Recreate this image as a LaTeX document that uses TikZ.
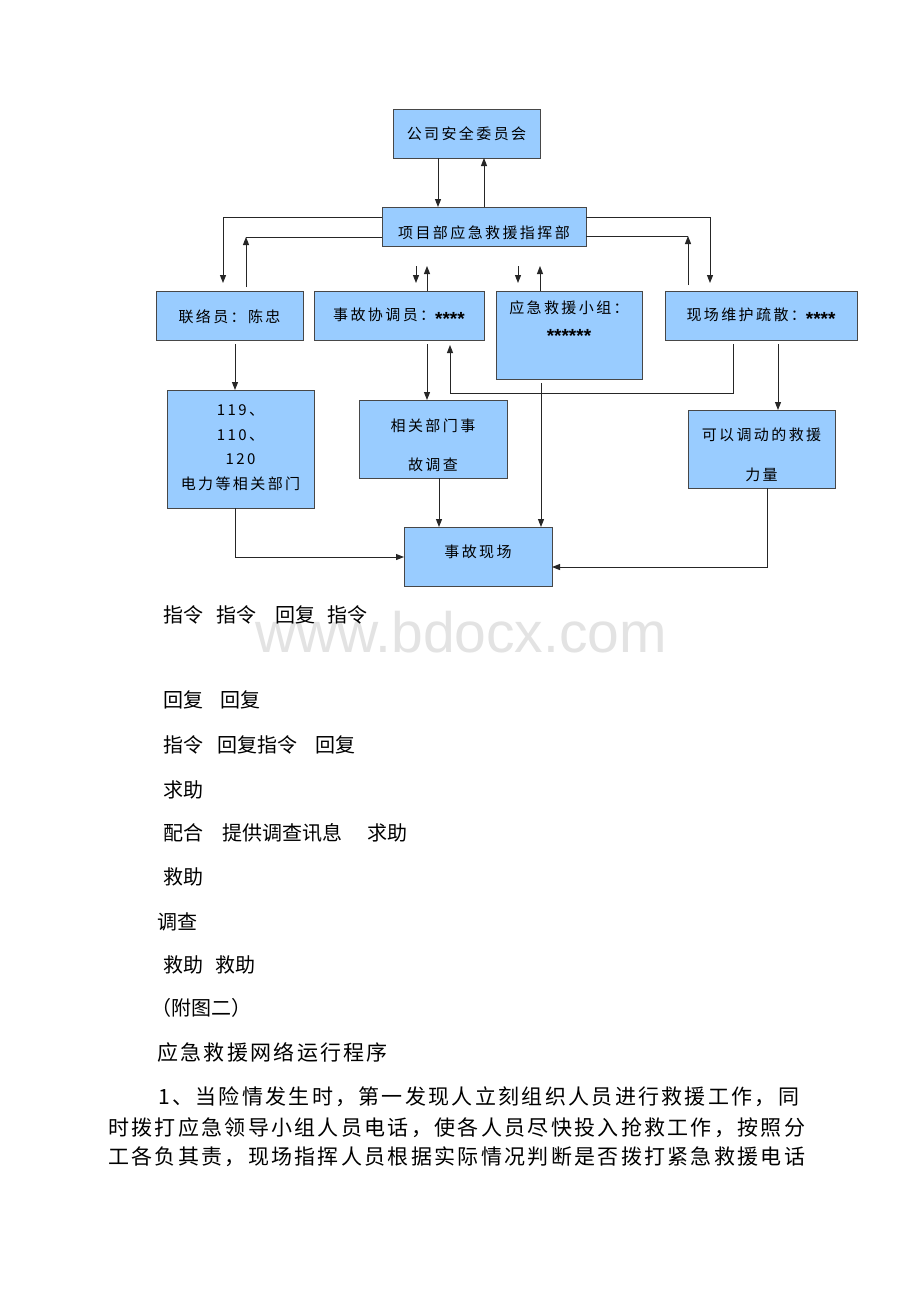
\documentclass[tikz,border=0pt]{standalone}
\usepackage{fontspec}
\setmainfont{Noto Sans CJK SC}
\newfontfamily\boxfont[LetterSpace=16]{Noto Sans CJK SC}
\newfontfamily\parafont[LetterSpace=11]{Noto Sans CJK SC}
\newfontfamily\wmfont{Liberation Sans}
\newfontfamily\starfont{Liberation Sans}
\usepackage{tikz}
\usetikzlibrary{arrows.meta}
\definecolor{boxblue}{HTML}{99CCFF}
\definecolor{edgegray}{HTML}{262626}
\newcommand{\stars}[1]{\raisebox{-5pt}{\starfont\bfseries\fontsize{19}{19}\selectfont #1}}

\begin{document}
\begin{tikzpicture}[x=1pt, y=-1pt,
		box/.style={draw=edgegray!85, line width=1pt, fill=boxblue, inner sep=0pt, outer sep=0pt},
		boxtext/.style={font=\boxfont\fontsize{15}{24}\selectfont, align=center, inner sep=0pt},
		bodytext/.style={font=\fontsize{20}{24}\selectfont, anchor=west, inner sep=0pt},
		paratext/.style={font=\parafont\fontsize{21}{26}\selectfont, anchor=west, inner sep=0pt},
		link/.style={draw=edgegray, line width=1pt},
		arr/.style={link, -{Triangle[length=8pt,width=6pt]}}]
		\useasboundingbox (0,0) rectangle (920,1302);
		\fill[white] (0,0) rectangle (920,1302);
		\node[anchor=base west, inner sep=0pt, text=black!11, font=\wmfont\fontsize{57}{60}\selectfont] (wm) at (255,652) {www.bdocx.com};

		\node[box, minimum width=147, minimum height=49] (gs) at (466.5,133.5) {};
		\node[box, minimum width=204, minimum height=39] (xmb) at (484,226.5) {};
		\node[box, minimum width=147, minimum height=49] (llr) at (229.5,315.5) {};
		\node[box, minimum width=170, minimum height=49] (sgx) at (399,315.5) {};
		\node[box, minimum width=146, minimum height=88] (jyz) at (569,335) {};
		\node[box, minimum width=192, minimum height=49] (xcwh) at (761,315.5) {};
		\node[box, minimum width=147, minimum height=118] (bj) at (240.5,449) {};
		\node[box, minimum width=148, minimum height=78] (xgbm) at (433,439) {};
		\node[box, minimum width=148, minimum height=59] (sgxc) at (478,556.5) {};
		\node[box, minimum width=147, minimum height=78] (kydd) at (761.5,449) {};

		\node[boxtext] (gs-t) at (gs) {公司安全委员会};
		\node[boxtext] (xmb-t) at ([yshift=-6.5pt]xmb.center) {项目部应急救援指挥部};
		\node[boxtext] (llr-t) at ([yshift=-1.5pt]llr.center) {联络员：陈忠};
		\node[boxtext] (sgx-t) at ([yshift=-1.5pt]sgx.center) {事故协调员：\stars{****}};
		\node[boxtext] (jyz-t) at ([yshift=13pt]jyz.center) {应急救援小组：\\\stars{******}};
		\node[boxtext] (xcwh-t) at ([yshift=-1.5pt]xcwh.center) {现场维护疏散：\stars{****}};
		\node[boxtext] (bj-t) at ([yshift=1.5pt]bj.center) {119、\\[1pt]110、\\[0pt]120\\[1pt]电力等相关部门};
		\node[boxtext] (xgbm-t) at ([yshift=-6.5pt]xgbm.center) {相关部门事\\[15pt]故调查};
		\node[boxtext] (sgxc-t) at ([yshift=4.5pt]sgxc.center) {事故现场};
		\node[boxtext] (kydd-t) at ([yshift=-6pt]kydd.center) {可以调动的救援\\[16pt]力量};

		\coordinate (f1) at (416,266);
		\coordinate (f2) at (427,266);
		\coordinate (f3) at (518,266);
		\coordinate (f4) at (540,266);
		\coordinate (c1) at (246,237);
		\coordinate (c2) at (688,236);

		\draw[arr] (gs.south -| 438,0) -- (xmb.north -| 438,0);
		\draw[arr] (xmb.north -| 484,0) -- (gs.south -| 484,0);
		\draw[arr] (xmb.west |- 0,217) -| ([yshift=8pt]llr.north -| 223,0);
		\draw[link] (xmb.west |- c1) -- (c1);
		\draw[arr] ([yshift=4pt]llr.north -| c1) -- (c1);
		\draw[arr] (f1) -- ([yshift=8pt]sgx.north -| f1);
		\draw[arr] (sgx.north -| f2) -- (f2);
		\draw[arr] (f3) -- ([yshift=8pt]jyz.north -| f3);
		\draw[arr] (jyz.north -| f4) -- (f4);
		\draw[arr] (xmb.east |- 0,217) -| ([yshift=8pt]xcwh.north -| 710,0);
		\draw[link] (xmb.east |- c2) -- (c2);
		\draw[arr] ([yshift=6pt]xcwh.north -| c2) -- (c2);
		\draw[arr] ([yshift=-4pt]llr.south -| 235,0) -- (bj.north -| 235,0);
		\draw[arr] ([yshift=-4pt]sgx.south -| 427,0) -- (xgbm.north -| 427,0);
		\draw[arr] ([yshift=-4pt]xcwh.south -| 733,0) |- (450,393) -- ([yshift=-5pt]sgx.south -| 450,0);
		\draw[arr] ([yshift=-4pt]jyz.south -| 541,0) -- (sgxc.north -| 541,0);
		\draw[arr] (xgbm.south -| 439,0) -- (sgxc.north -| 439,0);
		\draw[arr] (bj.south -| 235,0) |- (sgxc.west |- 0,557);
		\draw[arr] ([yshift=-4pt]xcwh.south -| 778,0) -- (kydd.north -| 778,0);
		\draw[arr] (kydd.south -| 767,0) |- (sgxc.east |- 0,567);

		\node[bodytext] (t1) at (163,615) {指令\hspace{13pt}指令\hspace{19pt}回复\hspace{12pt}指令};
		\node[bodytext] (t2) at (163,700) {回复\hspace{17pt}回复};
		\node[bodytext] (t3) at (163,745) {指令\hspace{14pt}回复指令\hspace{18pt}回复};
		\node[bodytext] (t4) at (163,790) {求助};
		\node[bodytext] (t5) at (163,833) {配合\hspace{19pt}提供调查讯息\hspace{25pt}求助};
		\node[bodytext] (t6) at (163,877) {救助};
		\node[bodytext] (t7) at (157,922) {调查};
		\node[bodytext] (t8) at (163,965) {救助\hspace{12pt}救助};
		\node[bodytext] (t9) at (151,1008) {（附图二）};
		\node[paratext] (t10) at (157,1052) {应急救援网络运行程序};
		\node[paratext] (p1) at (158,1097) {1、当险情发生时，第一发现人立刻组织人员进行救援工作，同};
		\node[paratext] (p2) at (108,1128) {时拨打应急领导小组人员电话，使各人员尽快投入抢救工作，按照分};
		\node[paratext] (p3) at (108,1157) {工各负其责，现场指挥人员根据实际情况判断是否拨打紧急救援电话};
	\end{tikzpicture}
\end{document}
